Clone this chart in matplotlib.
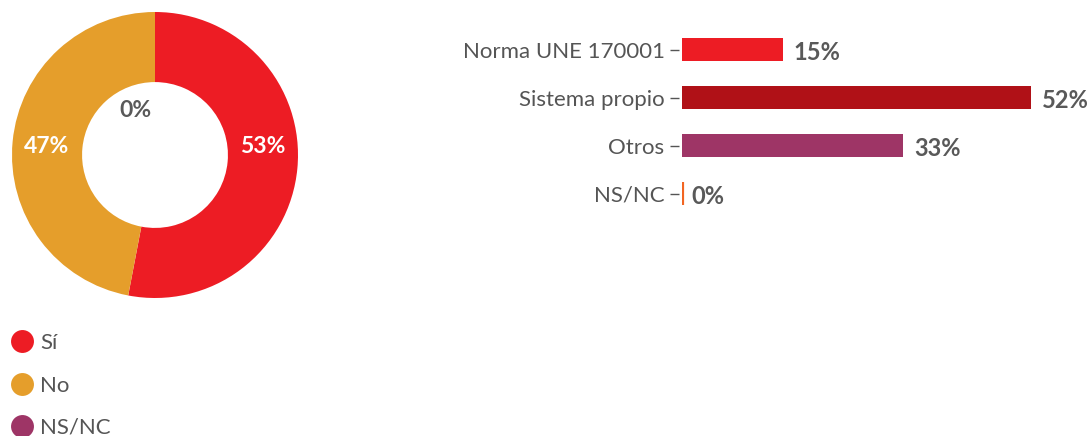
import numpy as np
import matplotlib
matplotlib.use("Agg")
import matplotlib.pyplot as plt
from matplotlib.lines import Line2D

plt.rcParams['font.family'] = ['Lato', 'DejaVu Sans']

# donut data
donut_labels = ["Sí", "No", "NS/NC"]
donut_values = [53, 47, 0]
donut_colors = ["#ED1C24", "#E59E2B", "#9E3566"]

# bar data
bar_labels = ["Norma UNE 170001", "Sistema propio", "Otros", "NS/NC"]
bar_values = [15, 52, 33, 0]
bar_colors = ["#ED1C24", "#B01117", "#9E3566", "#F26522"]

text_grey = "#555555"
value_grey = "#595959"

fig = plt.figure(figsize=(10.87, 4.36), dpi=100)

# ---- donut ----
ax_d = fig.add_axes([12 / 1087, 1 - 298 / 436, 286 / 1087, 286 / 436])
wedges, _ = ax_d.pie(donut_values, colors=donut_colors, startangle=90,
                     counterclock=False, radius=1.0,
                     wedgeprops=dict(width=0.49, edgecolor="none"))
ax_d.set_xlim(-1, 1)
ax_d.set_ylim(-1, 1)
ax_d.set_aspect("equal")
ax_d.axis("off")

for w, v in zip(wedges, donut_values):
    mid = np.deg2rad((w.theta1 + w.theta2) / 2)
    if v > 0:
        r = 0.76
        ax_d.text(r * np.cos(mid), 0.06, f"{v}%",
                  ha="center", va="center", color="white",
                  fontsize=16.5, fontweight="bold")
    else:
        ax_d.text(-0.14, 0.31, f"{v}%", ha="center", va="center",
                  color=value_grey, fontsize=16.5, fontweight="bold")

handles = [Line2D([0], [0], marker="o", linestyle="none", markersize=16.5,
                  markerfacecolor=c, markeredgecolor="none") for c in donut_colors]
leg = fig.legend(handles, donut_labels, loc="upper left",
                 bbox_to_anchor=(0.0101, 0.236), frameon=False,
                 fontsize=16, labelspacing=1.01, handletextpad=0.3,
                 handlelength=1.0, borderaxespad=0, borderpad=0)
for t in leg.get_texts():
    t.set_color(text_grey)

# ---- bars ----
ax_b = fig.add_axes([0.6274, 0.501, 0.3704, 0.4404])
ax_b.spines['left'].set_position(('outward', 2))
for s in ax_b.spines.values():
    s.set_visible(False)

y = np.arange(len(bar_labels))
bars = ax_b.barh(y, bar_values, height=0.48, color=bar_colors,
                 edgecolor=bar_colors, linewidth=[0 if v > 0 else 3 for v in bar_values])
ax_b.set_xlim(0, 60)
ax_b.set_ylim(len(bar_labels) - 0.5, -0.5)
ax_b.set_yticks(y)
ax_b.set_yticklabels(bar_labels, fontsize=16, color=text_grey)
ax_b.tick_params(axis="y", length=6.5, width=1, color=text_grey, pad=4)
ax_b.set_xticks([])

for yi, v in zip(y, bar_values):
    ax_b.annotate(f"{v}%", xy=(v, yi), xytext=(8 if v > 0 else 7, -2),
                  textcoords="offset points", ha="left", va="center",
                  color=value_grey, fontsize=17, fontweight="bold")

fig.savefig("out.png", dpi=100)
